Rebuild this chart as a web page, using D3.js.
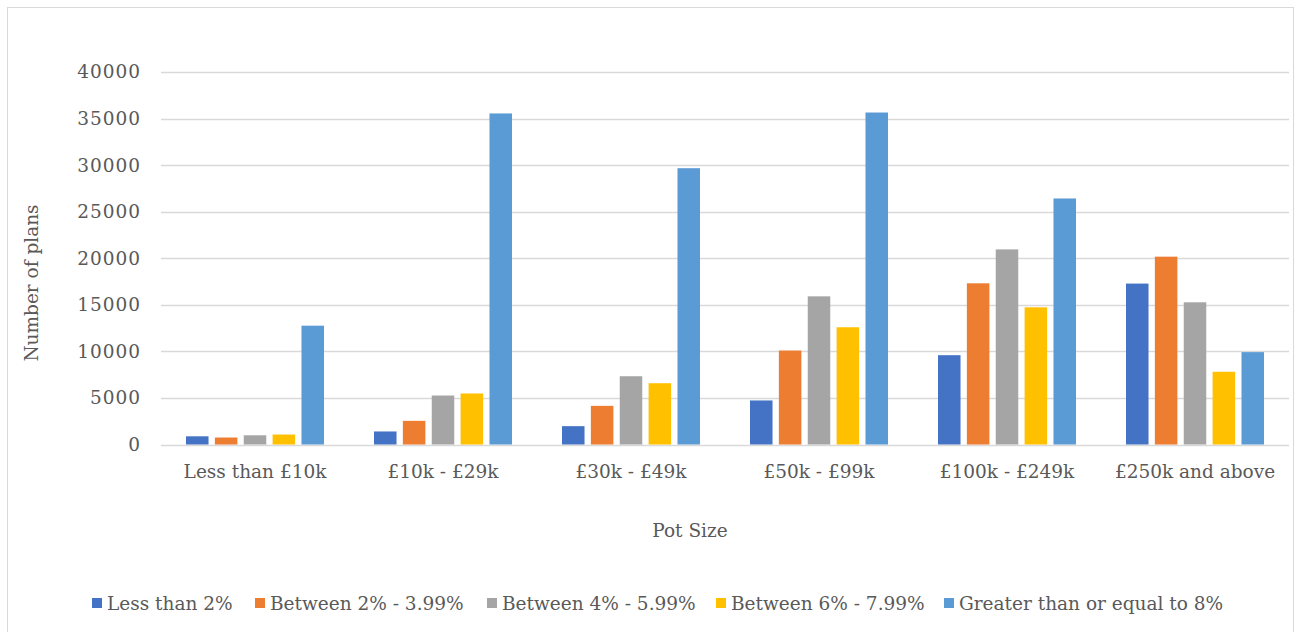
<!DOCTYPE html>
<html>
<head>
<meta charset="utf-8">
<script src="https://cdn.jsdelivr.net/npm/d3@7"></script>
<style>
  html, body { margin: 0; padding: 0; background: #fff; }
  svg { display: block; }
  text { font-family: "DejaVu Serif", Georgia, serif; fill: #595959; }
</style>
</head>
<body>
<svg id="chart" width="1301" height="632"></svg>
<script>
// Pension plans by pot size and contribution band
const categories = ["Less than £10k", "£10k - £29k", "£30k - £49k", "£50k - £99k", "£100k - £249k", "£250k and above"];
const seriesNames = ["Less than 2%", "Between 2% - 3.99%", "Between 4% - 5.99%", "Between 6% - 7.99%", "Greater than or equal to 8%"];
const lessThan2 = [880, 1400, 1970, 4730, 9590, 17280];
const between2and4 = [750, 2540, 4150, 10090, 17310, 20170];
const between4and6 = [990, 5260, 7330, 15910, 20950, 15270];
const between6and8 = [1070, 5480, 6580, 12590, 14730, 7810];
const atLeast8 = [12760, 35550, 29670, 35650, 26420, 9920];
const yTicks = [0, 5000, 10000, 15000, 20000, 25000, 30000, 35000, 40000];
const colors = ["#4472C4", "#ED7D31", "#A5A5A5", "#FFC000", "#5B9BD5"];

const seriesValues = [lessThan2, between2and4, between4and6, between6and8, atLeast8];
const fontSize = 18.5;

const svg = d3.select("#chart");

// chart frame
svg.append("rect")
  .attr("x", 7.5).attr("y", 7.5)
  .attr("width", 1286).attr("height", 640)
  .attr("fill", "#fff").attr("stroke", "#d9d9d9").attr("stroke-width", 1);

const plot = { left: 161, right: 1289, top: 72, bottom: 444.5 };

const y = d3.scaleLinear().domain([0, 40000]).range([plot.bottom, plot.top]);
const x0 = d3.scaleBand().domain(categories).range([plot.left, plot.right]).padding(0);
const groupWidth = 138;
const x1 = d3.scaleBand().domain(seriesNames).range([0, groupWidth]).paddingInner(0.22).paddingOuter(0);

// gridlines
svg.append("g")
  .selectAll("line")
  .data(yTicks)
  .join("line")
  .attr("x1", plot.left).attr("x2", plot.right)
  .attr("y1", d => Math.round(y(d)) + 0.5)
  .attr("y2", d => Math.round(y(d)) + 0.5)
  .attr("stroke", "#d9d9d9").attr("stroke-width", 1.3);

// y axis labels
const yAxis = d3.axisLeft(y).tickValues(yTicks).tickSize(0).tickPadding(0).tickFormat(d3.format("d"));
svg.append("g")
  .attr("transform", `translate(${plot.left - 20},0)`)
  .call(yAxis)
  .call(g => g.select(".domain").remove())
  .selectAll("text")
  .attr("font-size", fontSize)
  .attr("letter-spacing", 1)
  .attr("font-family", "DejaVu Serif, serif")
  .attr("fill", "#595959");

// bars
const groups = svg.append("g")
  .selectAll("g")
  .data(categories)
  .join("g")
  .attr("transform", d => `translate(${x0(d) + (x0.bandwidth() - groupWidth) / 2},0)`);

groups.selectAll("rect")
  .data((c, i) => seriesNames.map((s, k) => ({ s, k, v: seriesValues[k][i] })))
  .join("rect")
  .attr("x", d => x1(d.s))
  .attr("width", x1.bandwidth())
  .attr("y", d => y(d.v))
  .attr("height", d => y(0) - y(d.v))
  .attr("fill", d => colors[d.k]);

// x axis labels
const xAxis = d3.axisBottom(x0).tickSize(0).tickPadding(0);
svg.append("g")
  .attr("transform", `translate(0,${plot.bottom + 33})`)
  .call(xAxis)
  .call(g => g.select(".domain").remove())
  .selectAll("text")
  .attr("dy", 0)
  .attr("font-size", fontSize)
  .attr("font-family", "DejaVu Serif, serif")
  .attr("fill", "#595959");

// axis titles
svg.append("text")
  .attr("x", 690).attr("y", 537)
  .attr("text-anchor", "middle")
  .attr("font-size", fontSize)
  .text("Pot Size");

svg.append("text")
  .attr("transform", "translate(38,283) rotate(-90)")
  .attr("text-anchor", "middle")
  .attr("font-size", fontSize)
  .text("Number of plans");

// legend
const legendX = [92, 255, 487, 716, 944];
const legend = svg.append("g")
  .selectAll("g")
  .data(seriesNames)
  .join("g")
  .attr("transform", (d, i) => `translate(${legendX[i]},603)`);

legend.append("rect")
  .attr("x", 0).attr("y", -5)
  .attr("width", 10).attr("height", 10)
  .attr("fill", (d, i) => colors[i]);

legend.append("text")
  .attr("x", 15).attr("y", 6.5)
  .attr("font-size", fontSize)
  .text(d => d);
</script>
</body>
</html>
